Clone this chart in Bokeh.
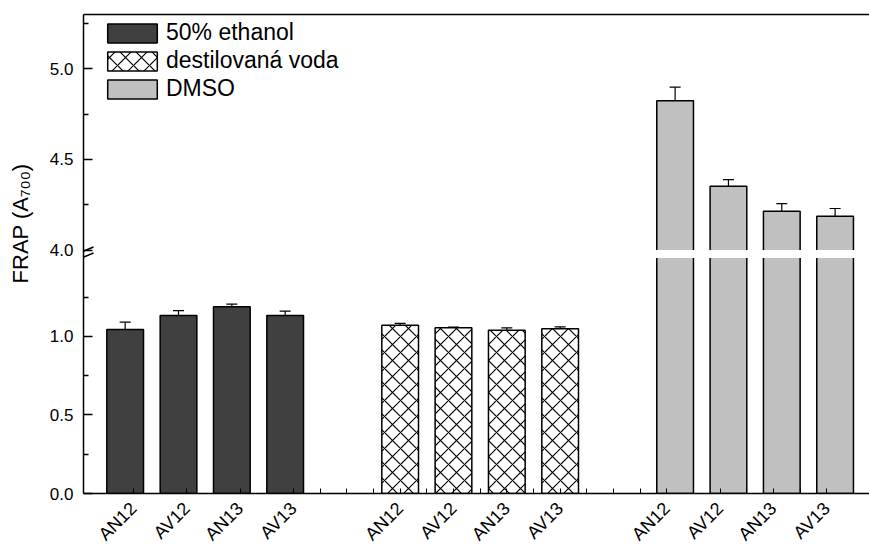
import math
from bokeh.plotting import figure
from bokeh.models import (Range1d, LinearAxis, FixedTicker, CustomJSTickFormatter, Whisker,
                          TeeHead, ColumnDataSource, BoxAnnotation, Legend, LegendItem, Arrow)
from bokeh.embed import file_html
from bokeh.resources import INLINE

# ---- data -------------------------------------------------------------
samples = ["AN12", "AV12", "AN13", "AV13"]
solvents = ["50% ethanol", "destilovaná voda", "DMSO"]

ethanol = [1.045, 1.134, 1.189, 1.134]
ethanol_err = [0.046, 0.031, 0.017, 0.028]

water = [1.072, 1.055, 1.040, 1.049]
water_err = [0.012, 0.005, 0.015, 0.012]

dmso = [4.824, 4.352, 4.214, 4.187]
dmso_err = [0.075, 0.037, 0.042, 0.042]

# ---- broken y axis geometry ------------------------------------------
LO = (0.0, 1.5)          # lower segment
UP = (4.0, 5.3)          # upper segment
SEG_PX, GAP_PX = 236, 8
FRAME_H = 2 * SEG_PX + GAP_PX
lo_end = LO[0] + (LO[1] - LO[0]) * FRAME_H / SEG_PX
up_start = UP[1] - (UP[1] - UP[0]) * FRAME_H / SEG_PX
PX_Y = (lo_end - LO[0]) / FRAME_H          # one pixel in lower-range units


def up_to_lo(v):
    """Position of an upper-segment value in lower-range coordinates."""
    return (v - up_start) / (UP[1] - up_start) * (lo_end - LO[0]) + LO[0]


# ---- x layout -----------------------------------------------------------
UNIT_PX = 53.33                  # pixels per category step
PX_X = 1 / UNIT_PX
GROUP_GAP = 5                    # category step between solvent groups
SERIES_SHIFT = [-0.156, 0.0, 0.156]
BAR_W = 0.688
cats = [[g * GROUP_GAP + i + 1 for i in range(len(samples))] for g in range(3)]
xs = [[c + SERIES_SHIFT[g] for c in cats[g]] for g in range(3)]

X_START = 1 - 50 * PX_X
X_END = X_START + 786 * PX_X

FONT = "Liberation Sans"

p = figure(width=869, height=554, output_backend="svg", toolbar_location=None,
           x_range=Range1d(X_START, X_END), y_range=Range1d(LO[0], lo_end),
           x_axis_location=None, y_axis_location=None,
           min_border_left=83, min_border_right=0, min_border_top=14, min_border_bottom=60)
p.extra_y_ranges = {"upper": Range1d(up_start, UP[1])}
p.outline_line_color = None
p.xgrid.visible = False
p.ygrid.visible = False
p.background_fill_color = "white"


def make_source(x, vals, errs):
    return ColumnDataSource(dict(x=x, top=vals,
                                 lo=[v - e for v, e in zip(vals, errs)],
                                 hi=[v + e for v, e in zip(vals, errs)]))


src_eth = make_source(xs[0], ethanol, ethanol_err)
src_wat = make_source(xs[1], water, water_err)
src_dms = make_source(xs[2], dmso, dmso_err)

r_eth = p.vbar(x="x", top="top", bottom=0, width=BAR_W, source=src_eth,
               fill_color="#404040", line_color="black", line_width=1.5)
r_wat = p.vbar(x="x", top="top", bottom=0, width=BAR_W, source=src_wat,
               fill_color="white", line_color="black", line_width=1.5,
               hatch_pattern="x", hatch_color="black", hatch_scale=16, hatch_weight=1.2)
r_dms = p.vbar(x="x", top="top", bottom=up_start, width=BAR_W, source=src_dms,
               y_range_name="upper", fill_color="#c0c0c0", line_color="black", line_width=1.5)

# white gap between the two segments across the DMSO bars
p.add_layout(BoxAnnotation(left=min(xs[2]) - 0.5, right=max(xs[2]) + 0.5,
                           bottom=LO[1], top=up_to_lo(UP[0]),
                           fill_color="white", fill_alpha=1, line_color=None))

# error bars
for src, rng in ((src_eth, "default"), (src_wat, "default"), (src_dms, "upper")):
    p.add_layout(Whisker(base="x", lower="lo", upper="hi", source=src, y_range_name=rng,
                         line_color="black", line_width=1.2,
                         upper_head=TeeHead(size=11, line_color="black", line_width=1.2),
                         lower_head=TeeHead(size=11, line_color="black", line_width=1.2)))

# value axis: both segments on one axis
y_major = [0.0, 0.5, 1.0] + [up_to_lo(v) for v in (4.0, 4.5, 5.0)]
y_labels = ["0.0", "0.5", "1.0", "4.0", "4.5", "5.0"]
y_minor = [0.25, 0.75, 1.25] + [up_to_lo(v) for v in (4.25, 4.75, 5.25)]
lookup = """
    const i = pos.findIndex(q => Math.abs(q - tick) < 1e-6);
    return i >= 0 ? labels[i] : "";
"""
yaxis = LinearAxis(
    ticker=FixedTicker(ticks=y_major, minor_ticks=y_minor),
    formatter=CustomJSTickFormatter(args=dict(pos=y_major, labels=y_labels), code=lookup),
    axis_line_width=1.5, major_tick_line_width=1.5, minor_tick_line_width=1.5,
    major_tick_in=9, major_tick_out=0, minor_tick_in=5, minor_tick_out=0,
    major_label_standoff=10, major_label_text_font=FONT, major_label_text_font_size="17px",
    major_label_text_color="black")
p.add_layout(yaxis, "left")

# axis title; the leading no-break spaces lift it above the frame's middle
title_axis = LinearAxis(
    ticker=FixedTicker(ticks=[]),
    axis_line_color=None, major_tick_in=0, major_tick_out=0,
    axis_label="\u00a0" * 10 + "FRAP (A₇₀₀)", axis_label_standoff=14, axis_label_text_font=FONT,
    axis_label_text_font_size="22px", axis_label_text_font_style="normal",
    axis_label_text_color="black")
p.add_layout(title_axis, "left")

# category axis
x_ticks = [c for grp in cats for c in grp]
x_labels = samples * 3
x_major = list(range(1, 15))
x_minor = [k + 0.5 for k in range(0, 15)]
xaxis = LinearAxis(
    ticker=FixedTicker(ticks=x_major, minor_ticks=x_minor),
    formatter=CustomJSTickFormatter(args=dict(pos=x_ticks, labels=x_labels), code=lookup),
    axis_line_width=1.5, major_tick_line_width=1, minor_tick_line_width=1,
    major_tick_in=5, major_tick_out=0, minor_tick_in=5, minor_tick_out=0,
    major_label_standoff=12, major_label_orientation=math.pi / 4,
    major_label_text_font=FONT, major_label_text_font_size="18px", major_label_text_color="black")
p.add_layout(xaxis, "below")

# top frame line
top = LinearAxis(ticker=FixedTicker(ticks=[]), axis_line_width=1.5,
                 major_label_text_font_size="0px", major_tick_in=0, major_tick_out=0)
p.add_layout(top, "above")

# break marks on the value axis
gap_mid = (LO[1] + up_to_lo(UP[0])) / 2
for off in (-3, 3):
    p.add_layout(Arrow(end=None, x_start=X_START - 9 * PX_X, y_start=gap_mid + (off - 4) * PX_Y,
                       x_end=X_START + 10 * PX_X, y_end=gap_mid + (off + 4) * PX_Y,
                       line_color="black", line_width=1.5))

# legend swatches are drawn inset by 10 % of the glyph box
legend = Legend(items=[LegendItem(label=solvents[0], renderers=[r_eth]),
                       LegendItem(label=solvents[1], renderers=[r_wat]),
                       LegendItem(label=solvents[2], renderers=[r_dms])],
                location=(18, 391), glyph_width=62, glyph_height=24, label_height=19,
                spacing=1, padding=0, margin=0, label_standoff=3,
                label_text_font=FONT, label_text_font_size="23px", label_text_color="black",
                border_line_color=None, background_fill_alpha=0)
p.add_layout(legend)

open("out.html", "w").write(file_html(p, INLINE))
